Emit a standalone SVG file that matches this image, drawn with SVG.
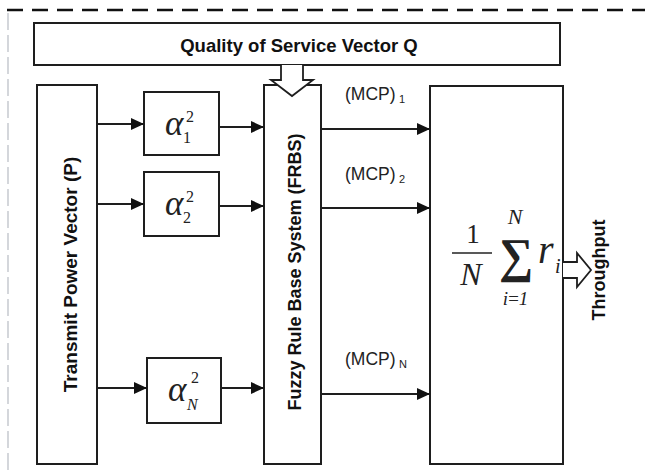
<svg xmlns="http://www.w3.org/2000/svg" width="645" height="475" viewBox="0 0 645 475">
<style>
.box{fill:#fff;stroke:#1e1e1e;stroke-width:2}
.ln{fill:none;stroke:#1e1e1e;stroke-width:2}
.hol{fill:#fff;stroke:#1e1e1e;stroke-width:1.8;stroke-linejoin:miter}
.bt{font-family:"Liberation Sans",Arial,sans-serif;font-weight:bold;fill:#111}
.mcp{font-family:"Liberation Sans",Arial,sans-serif;font-size:17.5px;fill:#222}
.mcps{font-family:"Liberation Sans",Arial,sans-serif;font-size:11px;fill:#222}
.m{font-family:"Liberation Serif","Times New Roman",serif;fill:#222}
.mi{font-family:"Liberation Serif","Times New Roman",serif;font-style:italic;fill:#222}
</style>
<defs>
<marker id="ah" markerUnits="userSpaceOnUse" markerWidth="13" markerHeight="12" refX="13" refY="6" orient="auto">
<path d="M0,0 L13,6 L0,12 z" fill="#111"/>
</marker>
</defs>
<rect width="645" height="475" fill="#fff"/>
<g id="frame">
<line x1="7" y1="10" x2="645" y2="10" stroke="#111" stroke-width="2.5" stroke-dasharray="16,9"/>
<line x1="8" y1="13" x2="8" y2="475" stroke="#b8bcc4" stroke-width="1.2" stroke-dasharray="17,5"/>
</g>
<g id="qos">
<rect class="box" x="34" y="23" width="526" height="42"/>
<text class="bt" x="299" y="52" font-size="18.5" text-anchor="middle">Quality of Service Vector Q</text>
</g>
<g id="transmit">
<rect class="box" x="37" y="85" width="60" height="379"/>
<text class="bt" font-size="19" text-anchor="middle" transform="translate(76.5,274.5) rotate(-90)">Transmit Power Vector (P)</text>
</g>
<g id="alpha1">
<rect class="box" x="144" y="92" width="75" height="63"/>
<text class="mi" x="165" y="135" font-size="35">α</text>
<text class="m" x="186" y="122" font-size="16">2</text>
<text class="m" x="183" y="143" font-size="16">1</text>
</g>
<g id="alpha2">
<rect class="box" x="144" y="172" width="75" height="64"/>
<text class="mi" x="165" y="215" font-size="35">α</text>
<text class="m" x="186" y="202" font-size="16">2</text>
<text class="m" x="183" y="223" font-size="16">2</text>
</g>
<g id="alphaN">
<rect class="box" x="147" y="358" width="74" height="65"/>
<text class="mi" x="168" y="401" font-size="35">α</text>
<text class="m" x="191" y="383" font-size="16">2</text>
<text class="mi" x="187" y="410" font-size="16">N</text>
</g>
<g id="frbs">
<rect class="box" x="264" y="85" width="57" height="379"/>
<text class="bt" font-size="18" text-anchor="middle" transform="translate(301,272) rotate(-90)">Fuzzy Rule Base System (FRBS)</text>
</g>
<g id="sum">
<rect class="box" x="430" y="86" width="133" height="378"/>
<text class="m" x="473" y="243" font-size="27" text-anchor="middle">1</text>
<line x1="452" y1="253" x2="492" y2="253" stroke="#222" stroke-width="1.6"/>
<text class="mi" x="471" y="285" font-size="32" text-anchor="middle">N</text>
<text class="m" x="516" y="272" font-size="48" font-weight="bold" text-anchor="middle">∑</text>
<text class="mi" x="515" y="224" font-size="22" text-anchor="middle">N</text>
<text class="mi" x="515" y="305" font-size="19" text-anchor="middle" letter-spacing="-1">i=1</text>
<text class="mi" x="538" y="263" font-size="40">r</text>
<text class="mi" x="555" y="273" font-size="20">i</text>
</g>
<g id="throughput">
<text class="bt" font-size="18" text-anchor="middle" transform="translate(605,270) rotate(-90)">Throughput</text>
</g>
<g id="connectors">
<path class="hol" d="M281,65 V80 H271 L292,96 L313,80 H303 V65"/>
<line class="ln" x1="97" y1="124" x2="144" y2="124" marker-end="url(#ah)"/>
<line class="ln" x1="219" y1="127" x2="264" y2="127" marker-end="url(#ah)"/>
<line class="ln" x1="97" y1="204" x2="144" y2="204" marker-end="url(#ah)"/>
<line class="ln" x1="219" y1="206" x2="264" y2="206" marker-end="url(#ah)"/>
<line class="ln" x1="97" y1="388" x2="147" y2="388" marker-end="url(#ah)"/>
<line class="ln" x1="221" y1="388" x2="264" y2="388" marker-end="url(#ah)"/>
<line class="ln" x1="321" y1="129" x2="430" y2="129" marker-end="url(#ah)"/>
<line class="ln" x1="321" y1="208" x2="430" y2="208" marker-end="url(#ah)"/>
<line class="ln" x1="321" y1="394" x2="430" y2="394" marker-end="url(#ah)"/>
<path class="hol" d="M563,262 H577 V253 L591,270 L577,287 V278 H563"/>
<text class="mcp" x="345" y="100">(MCP)</text><text class="mcps" x="399" y="103">1</text>
<text class="mcp" x="345" y="180">(MCP)</text><text class="mcps" x="399" y="183">2</text>
<text class="mcp" x="345" y="365">(MCP)</text><text class="mcps" x="399" y="368">N</text>
</g>
</svg>
